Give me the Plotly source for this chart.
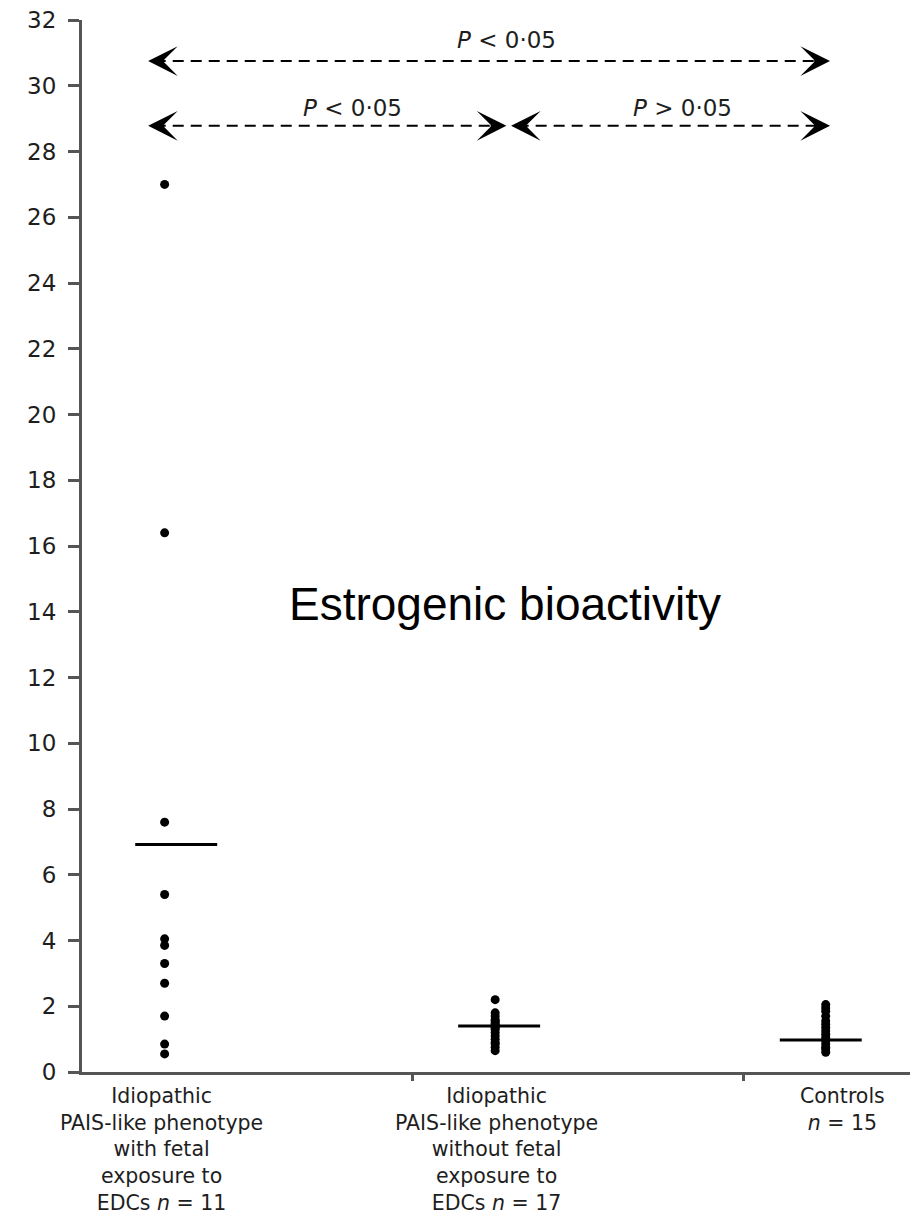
import plotly.graph_objects as go

# ---- data ----
group_labels = [
    "Idiopathic<br>PAIS-like phenotype<br>with fetal<br>exposure to<br>EDCs <i>n</i> = 11",
    "Idiopathic<br>PAIS-like phenotype<br>without fetal<br>exposure to<br>EDCs <i>n</i> = 17",
    "Controls<br><i>n</i> = 15",
]
group_pos = [0.25, 1.25, 2.25]
vals_with_edc = [27.0, 16.4, 7.6, 5.4, 4.05, 3.85, 3.3, 2.7, 1.7, 0.85, 0.55]
vals_without_edc = [2.2, 1.8, 1.7, 1.6, 1.55, 1.5, 1.45, 1.4, 1.35, 1.3, 1.2, 1.1,
                    1.0, 0.9, 0.85, 0.75, 0.65]
vals_controls = [2.05, 1.95, 1.85, 1.7, 1.55, 1.45, 1.35, 1.25, 1.15, 1.05, 0.95,
                 0.85, 0.75, 0.7, 0.6]
group_means = [6.92, 1.4, 0.97]
y_ticks = [0, 2, 4, 6, 8, 10, 12, 14, 16, 18, 20, 22, 24, 26, 28, 30, 32]
p_texts = ["<i>P</i> < 0·05", "<i>P</i> < 0·05", "<i>P</i> > 0·05"]
chart_title = "Estrogenic bioactivity"

# ---- figure ----
TXT = "#1e1e1e"
AX = "#555555"
TICKFONT = "DejaVu Sans"

fig = go.Figure()

for xp, vals in zip(group_pos, [vals_with_edc, vals_without_edc, vals_controls]):
    fig.add_trace(go.Scatter(
        x=[xp] * len(vals), y=vals, mode="markers",
        marker=dict(color="black", size=9, line=dict(width=0)),
        showlegend=False, hoverinfo="y"))

mean_offsets = [0.035, 0.012, -0.015]
half_w = 0.124
for xp, m, off in zip(group_pos, group_means, mean_offsets):
    fig.add_trace(go.Scatter(
        x=[xp + off - half_w, xp + off + half_w], y=[m, m], mode="lines",
        line=dict(color="black", width=3), showlegend=False, hoverinfo="skip"))

# comparison arrows: (x_left_tip, x_right_tip, y)
arrows = [(0.20, 2.263, 30.75), (0.20, 1.284, 28.78), (1.298, 2.263, 28.78)]
shapes = []
annotations = []
for (xa, xb, ya) in arrows:
    shapes.append(dict(type="line", xref="x", yref="y", x0=xa + 0.02, x1=xb - 0.02,
                       y0=ya, y1=ya, line=dict(color="black", width=2, dash="11px,7px")))
    annotations.append(dict(x=xa, y=ya, xref="x", yref="y", ax=16, ay=0, text="",
                            showarrow=True, arrowhead=3, arrowsize=1.9, arrowwidth=2.6,
                            arrowcolor="black", standoff=0))
    annotations.append(dict(x=xb, y=ya, xref="x", yref="y", ax=-16, ay=0, text="",
                            showarrow=True, arrowhead=3, arrowsize=1.9, arrowwidth=2.6,
                            arrowcolor="black", standoff=0))

p_pos = [(1.283, 31.39), (0.817, 29.32), (1.818, 29.32)]
for txt, (px, py) in zip(p_texts, p_pos):
    annotations.append(dict(x=px, y=py, xref="x", yref="y", text=txt, showarrow=False,
                            font=dict(family=TICKFONT, size=23, color=TXT)))

label_x = [0.242, 1.253, 2.30]
for txt, lx in zip(group_labels, label_x):
    annotations.append(dict(x=lx, y=0, xref="x", yref="paper", yanchor="top",
                            yshift=-10, text=txt, showarrow=False, align="center",
                            font=dict(family=TICKFONT, size=20.5, color=TXT)))

annotations.append(dict(x=1.28, y=14.24, xref="x", yref="y", text=chart_title,
                        showarrow=False,
                        font=dict(family="Liberation Sans, Arial", size=46, color="black")))

fig.update_layout(
    width=910, height=1218,
    margin=dict(l=82, r=0, t=20, b=146),
    paper_bgcolor="white", plot_bgcolor="white",
    shapes=shapes, annotations=annotations,
    showlegend=False,
    xaxis=dict(range=[0, 2.505], showgrid=False, zeroline=False, showline=True,
               linecolor=AX, linewidth=2.5, ticks="", showticklabels=False,
               minor=dict(tickvals=[1, 2], ticks="outside", ticklen=6, tickwidth=2.5,
                          tickcolor=AX)),
    yaxis=dict(range=[0, 32], tickvals=y_ticks, showgrid=False, zeroline=False,
               showline=True, linecolor=AX, linewidth=3, ticks="outside",
               ticklen=11, tickwidth=3, tickcolor=AX, ticklabelstandoff=7,
               tickfont=dict(family=TICKFONT, size=23, color=TXT)),
)

fig.write_html("out.html")
